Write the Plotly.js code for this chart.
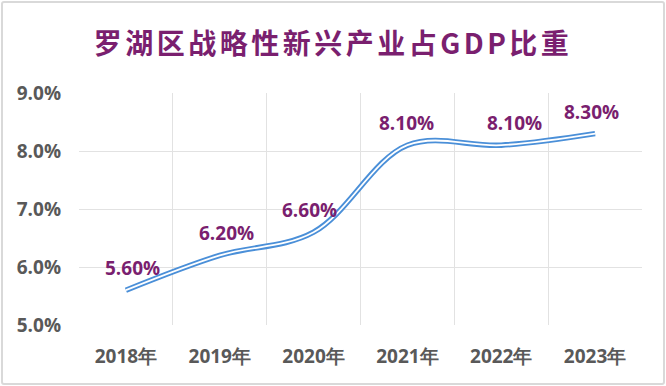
<!DOCTYPE html>
<html><head><meta charset="utf-8">
<script src="https://cdn.plot.ly/plotly-3.0.1.min.js"></script>
<style>
html,body{margin:0;padding:0;background:#fff;}
#wrap{position:relative;width:666px;height:386px;}
#chart{width:666px;height:386px;}
#border{position:absolute;left:1px;top:1px;width:660px;height:380px;border:2px solid #d9d9d9;border-radius:3px;pointer-events:none;}
.gtitle{letter-spacing:3.5px;}
</style></head>
<body>
<div id="wrap"><div id="chart"></div><div id="border"></div></div>
<script>
const years = ['2018年','2019年','2020年','2021年','2022年','2023年'];
const shares = [5.6, 6.2, 6.6, 8.1, 8.1, 8.3];
const labels = ['5.60%','6.20%','6.60%','8.10%','8.10%','8.30%'];
const yTicks = [5, 6, 7, 8, 9];
const yTickText = ['5.0%','6.0%','7.0%','8.0%','9.0%'];
const labelXShift = [7, 7, -4, -1, 13, -4];

const numFont = 'Open Sans, Noto Sans, sans-serif';
const purple = '#7a1f6f';

const traces = [
  {x: years, y: shares, type: 'scatter', mode: 'lines',
   line: {color: '#4a8fd8', width: 5.5, shape: 'spline', smoothing: 1}, hoverinfo: 'skip'},
  {x: years, y: shares, type: 'scatter', mode: 'lines',
   line: {color: '#ffffff', width: 1.8, shape: 'spline', smoothing: 1}, hoverinfo: 'skip'}
];

const annotations = years.map((yr, i) => ({
  x: yr, y: shares[i], xref: 'x', yref: 'y', text: '<b>' + labels[i] + '</b>',
  showarrow: false, xanchor: 'center', yanchor: 'middle', yshift: 22, xshift: labelXShift[i],
  font: {family: numFont, size: 19, color: purple}
}));

const layout = {
  width: 666, height: 386,
  margin: {l: 79, r: 24, t: 93, b: 61},
  paper_bgcolor: '#ffffff', plot_bgcolor: '#ffffff',
  showlegend: false,
  annotations: annotations,
  title: {text: '<b>罗湖区战略性新兴产业占GDP比重</b>', x: 0.5, xanchor: 'center', y: 0.885, yanchor: 'middle',
          font: {family: 'Noto Sans CJK SC, sans-serif', size: 28, color: purple}},
  xaxis: {type: 'category', range: [-0.5, 5.5], tickson: 'boundaries', showgrid: true,
          gridcolor: '#e2e2e2', gridwidth: 1, ticks: '', showline: false, zeroline: false,
          ticklabelstandoff: 18,
          tickfont: {family: numFont, size: 19, color: '#595959', weight: 'bold'}},
  yaxis: {range: [5, 9], tickvals: yTicks, ticktext: yTickText, showgrid: true,
          gridcolor: '#e2e2e2', gridwidth: 1, zeroline: false, showline: false, ticks: '', ticklen: 0,
          ticklabelstandoff: 17,
          tickfont: {family: numFont, size: 19, color: '#595959', weight: 'bold'}},
  font: {family: numFont}
};
Plotly.newPlot('chart', traces, layout, {staticPlot: true, displayModeBar: false});
</script>
</body></html>
